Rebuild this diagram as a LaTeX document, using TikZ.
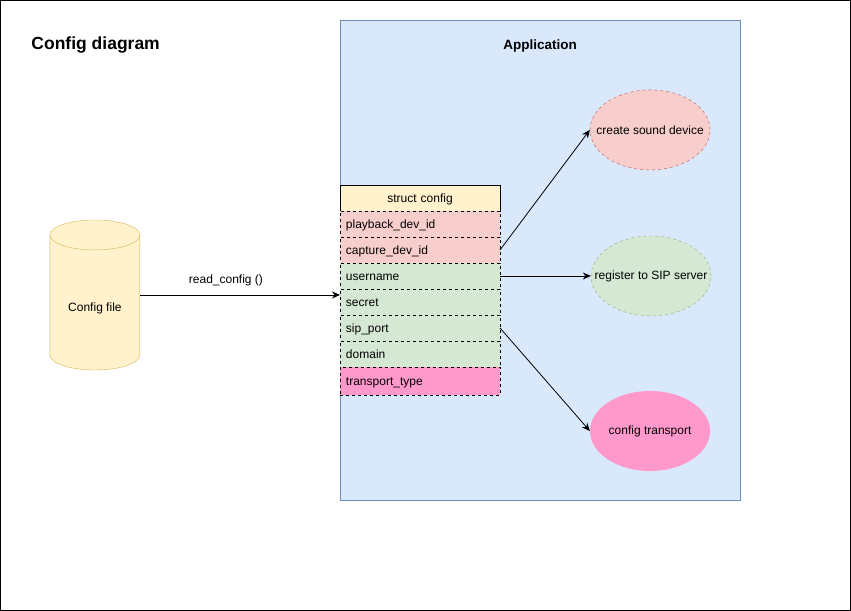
\documentclass[tikz,border=0pt]{standalone}
\usepackage{fontspec}
\setmainfont{Liberation Sans}
\definecolor{appblue}{HTML}{DAE8FC}
\definecolor{appline}{HTML}{6C8EBF}
\definecolor{cfgyellow}{HTML}{FFF2CC}
\definecolor{cfgline}{HTML}{D6B656}
\definecolor{sndred}{HTML}{F8CECC}
\definecolor{sndline}{HTML}{B85450}
\definecolor{sipgreen}{HTML}{D5E8D4}
\definecolor{sipline}{HTML}{82B366}
\definecolor{trpink}{HTML}{FF99CC}
\usetikzlibrary{arrows.meta,positioning,shapes.geometric}
\tikzset{
  field/.style={draw, dash pattern=on 3pt off 3pt, fill=#1, font=\fontsize{12}{14}\selectfont,
                minimum width=160, minimum height=26, text width=148, inner xsep=6,
                text height=8.5, text depth=0, align=left, anchor=north west, outer sep=0},
  action/.style={ellipse, fill=#1, minimum width=120, minimum height=80, inner sep=0},
  actlabel/.style={label={[font=\fontsize{12}{14}\selectfont]center:#1}},
  link/.style={-{Stealth[length=8pt,width=7pt]}, line width=0.8pt},
}

\begin{document}
\begin{tikzpicture}[x=1pt, y=-1pt]
% Frame
\draw[line width=0.8pt] (0.5,0.5) rectangle (850.5,610.5);
\node[font=\fontsize{17.5}{20}\selectfont\bfseries, anchor=west] (title) at (28, 45) {Config diagram};

% Application container
\node[draw=appline, fill=appblue, minimum width=400, minimum height=480, anchor=north west, inner sep=0] (app) at (340, 20) {};
\node[font=\fontsize{13.5}{16}\selectfont\bfseries] (applabel) at (540, 46) {Application};

% Config file
\draw[draw=cfgline, fill=cfgyellow] (50,235) -- (50,355) arc[start angle=180, end angle=0, x radius=45, y radius=15] -- (140,235);
\draw[draw=cfgline, fill=cfgyellow] (95,235) ellipse [x radius=45, y radius=15];
\node[minimum width=90, minimum height=150, inner sep=0, outer sep=0] (cfgfile) at (95, 295) {};
\node[font=\fontsize{12}{14}\selectfont] (cfglabel) at (95, 308) {Config file};

% struct config
\node[field=cfgyellow, solid, align=center] (header) at (340, 185) {struct config};
\node[field=sndred] (playback) at (340, 211) {playback\_dev\_id};
\node[field=sndred] (capture) at (340, 237) {capture\_dev\_id};
\node[field=sipgreen] (username) at (340, 263) {username};
\node[field=sipgreen] (secret) at (340, 289) {secret};
\node[field=sipgreen] (sipport) at (340, 315) {sip\_port};
\node[field=sipgreen] (domain) at (340, 341) {domain};
\node[field=trpink, minimum height=28] (transport) at (340, 367) {transport\_type};

% Actions
\node[action=sndred, draw=sndline, dash pattern=on 3pt off 3pt, actlabel=create sound device] (sound) at (650, 130) {};
\node[action=sipgreen, draw=sipline, dash pattern=on 3pt off 3pt, actlabel=register to SIP server] (register) at (651, 276) {};
\node[action=trpink, actlabel=config transport] (trconf) at (650, 431) {};

% Connectors
\draw[link] (cfgfile.east) -- node[pos=0.43, above=5pt, font=\fontsize{12}{14}\selectfont] (readlbl) {read\_config ()} (cfgfile.east -| app.west);
\draw[link] (capture.east) -- (sound.west);
\draw[link] (username.east) -- (register.west);
\draw[link] (sipport.east) -- (trconf.west);
\end{tikzpicture}
\end{document}
